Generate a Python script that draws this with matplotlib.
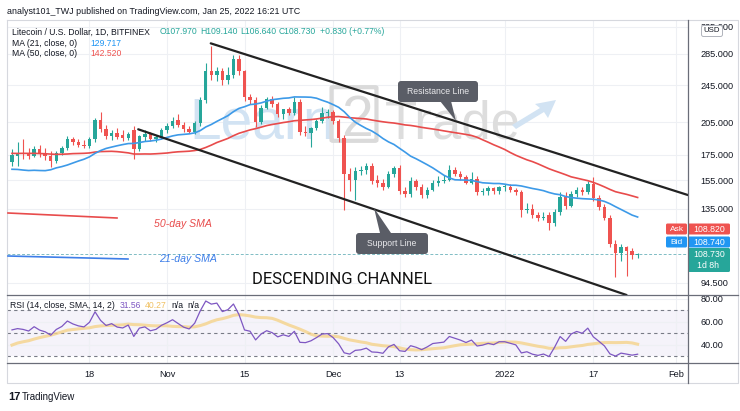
import numpy as np
import pandas as pd
import matplotlib
matplotlib.use('Agg')
import matplotlib.pyplot as plt
from matplotlib.patches import FancyBboxPatch, Polygon
from matplotlib.ticker import NullLocator

# ---------------- data ----------------
dates = pd.date_range('2021-10-04', '2022-01-25', freq='D')

opens = [169, 174, 177, 177, 174, 180, 176, 174, 170, 177, 181, 189, 186, 184, 183, 189, 207, 198, 192, 195,
         193, 190, 197, 180, 191, 194, 189, 191, 197, 201, 207, 202, 198, 196, 204, 228, 262, 258, 262, 251,
         257, 278, 262, 231, 228, 205, 220, 229, 224, 213, 218, 214, 226, 196, 195, 199, 206, 214, 215, 206,
         190, 160, 155, 162, 163, 166, 155, 153, 150, 160, 164, 147, 145, 154, 150, 144, 148, 153, 154, 155,
         163, 160, 157, 153, 156, 146, 147, 149, 147, 150, 150, 148, 146, 134, 135, 131, 129, 131, 126, 133,
         143, 137, 145, 148, 146, 152, 142, 136, 129, 114, 109, 112, 110, 107.97]
highs = [180, 186, 189, 181, 183, 184, 181, 178, 178, 183, 192, 191, 189, 188, 191, 209, 215, 202, 197, 199,
         197, 196, 201, 193, 197, 196, 193, 199, 204, 210, 213, 205, 201, 206, 231, 273, 296, 268, 266, 268,
         283, 284, 264, 235, 231, 223, 232, 233, 226, 219, 221, 231, 229, 201, 200, 208, 221, 218, 217, 208,
         193, 164, 165, 166, 168, 168, 159, 156, 162, 166, 167, 150, 157, 156, 152, 150, 155, 158, 159, 167,
         165, 162, 159, 161, 158, 149, 151, 150, 151, 152, 152, 149, 148, 139, 138, 133, 133, 133, 135, 146,
         146, 147, 150, 150, 154, 157, 144, 138, 131, 116, 114, 113, 111.5, 109.14]
lows = [166, 166, 172, 172, 173, 173, 171, 165, 168, 175, 179, 184, 182, 181, 181, 186, 196, 189, 188, 189,
        187, 188, 172, 178, 187, 187, 186, 189, 195, 199, 200, 196, 195, 194, 201, 225, 251, 250, 245, 247,
        254, 258, 227, 224, 200, 203, 218, 221, 210, 208, 212, 212, 193, 192, 182, 197, 204, 209, 203, 186,
        134, 147, 141, 159, 160, 152, 150, 148, 149, 157, 145, 143, 143, 148, 142, 142, 147, 151, 153, 154,
        158, 155, 152, 152, 144, 144, 144, 145, 145, 147, 146, 144, 130, 132, 129, 127, 128, 122, 124, 131,
        135, 136, 143, 144, 145, 140, 134, 128, 112, 97, 105, 97.5, 106, 106.64]
closes = [175, 177, 176, 174, 180, 176, 174, 170, 177, 181, 189, 186, 184, 183, 189, 207, 198, 192, 195, 191,
          190, 194, 180, 192, 194, 189, 191, 197, 201, 206, 202, 198, 196, 204, 228, 262, 258, 262, 251, 257,
          278, 262, 231, 228, 205, 220, 229, 224, 213, 218, 214, 226, 196, 195, 199, 206, 214, 215, 206, 190,
          160, 155, 162, 163, 166, 154, 153, 150, 160, 164, 147, 145, 154, 150, 144, 148, 153, 154, 155, 163,
          160, 157, 153, 156, 146, 147, 149, 147, 150, 150, 148, 146, 134, 135, 131, 129, 130, 126, 133, 143,
          137, 145, 148, 146, 152, 142, 136, 129, 114, 109, 112, 110, 107.9, 108.73]
# closes before the visible window (16 Aug - 3 Oct 2021) used to warm up the indicators
warmup_closes = [180, 172, 176, 178, 185, 182, 185, 188, 175, 180, 170, 178, 176, 174, 168, 178,
                 185, 190, 205, 215, 222, 228, 194, 190, 192, 180, 182, 184, 176,
                 180, 186, 182, 176, 180, 176, 155, 146, 160, 162, 152, 150, 152, 147, 145, 148, 153,
                 170, 167, 168]

price_ticks = [94.5, 135, 155, 175, 205, 245, 285, 325]
rsi_ticks = [80, 60, 40]
time_tick_dates = ['2021-10-18', '2021-11-01', '2021-11-15', '2021-12-01', '2021-12-13',
                   '2022-01-01', '2022-01-17', '2022-02-01']
time_tick_labels = ['18', 'Nov', '15', 'Dec', '13', '2022', '17', 'Feb']

# analyst drawings: (day offset from first date, price)
resistance_x = [35.9, 122.1]
resistance_y = [300, 144.2]
support_x = [22.8, 111.0]
support_y = [198.1, 89.0]

# ---------------- figure ----------------
W, H = 740, 411
plt.rcParams['font.family'] = ['Liberation Sans', 'DejaVu Sans']
fig = plt.figure(figsize=(7.4, 4.11), dpi=100)
fig.patch.set_facecolor('white')

def fx(x):
    return x / W

def fy(y):
    return 1 - y / H

L, R, T, B1, T2, B2 = 7, 688, 20, 295, 296, 363
ax = fig.add_axes([fx(L), fy(B1), (R - L) / W, (B1 - T) / H])
ax2 = fig.add_axes([fx(L), fy(B2), (R - L) / W, (B2 - T2) / H], sharex=ax)

x = np.arange(len(dates))
o = np.array(opens, float); c = np.array(closes, float)
hi = np.array(highs, float); lo = np.array(lows, float)
up = c >= o
GREEN, RED = '#26a69a', '#ef5350'
cols = np.where(up, GREEN, RED)

ax.set_yscale('log')
ax.set_ylim(89.0, 335.8)
ax.set_xlim(-0.9, 122.1)
ax.yaxis.set_minor_locator(NullLocator())
ax.set_yticks(price_ticks)
ax.set_yticklabels([f'{v:.3f}' for v in price_ticks])
ax.yaxis.tick_right()
ax.tick_params(axis='y', length=0, pad=9, labelsize=6.6, labelcolor='#131722')
ax.tick_params(axis='x', length=0, labelbottom=False)
start = dates[0]
tpos = [(pd.Timestamp(d) - start).days for d in time_tick_dates]
ax.set_xticks(tpos)
for a in (ax, ax2):
    a.set_axisbelow(True)
    a.grid(True, color='#eef0f4', lw=0.8)
    for s in a.spines.values():
        s.set_visible(False)

# watermark
wm = dict(transform=fig.transFigure, zorder=1, va='baseline', ha='left')
ax.text(fx(189), fy(138), 'Learn', color='#d2e3f3', fontsize=41, **wm)
ax.add_patch(FancyBboxPatch((fx(333), fy(140)), 42 / W, 52 / H, boxstyle='round,pad=0.002',
                            transform=fig.transFigure, fc='none', ec='#dadada', lw=3, zorder=1))
ax.text(fx(341), fy(136), '2', color='#dadada', fontsize=41, **wm)
ax.text(fx(385), fy(138), 'Trade', color='#dddddd', fontsize=38, **wm)
ax.add_patch(Polygon([(fx(512), fy(125)), (fx(540), fy(108)), (fx(535), fy(104)), (fx(556), fy(100)),
                      (fx(548), fy(118)), (fx(544), fy(112)), (fx(516), fy(129))],
                     closed=True, transform=fig.transFigure, fc='#d2e3f3', ec='none', zorder=1))

# candles
ax.vlines(x, lo, hi, colors=cols, lw=0.8, zorder=3)
body = np.maximum(np.abs(c - o), np.minimum(o, c) * 0.005)
ax.bar(x, body, bottom=np.minimum(o, c), width=0.62, color=cols, lw=0, zorder=4)

# moving averages
allc = pd.Series(warmup_closes + closes, dtype=float)
n0 = len(warmup_closes)
ma21 = allc.rolling(21).mean().values[n0:]
ma50 = allc.rolling(50).mean().values[n0:]
ax.plot(x, ma50, color='#e84b4b', lw=1.2, zorder=5)
ax.plot(x, ma21, color='#3d9ae8', lw=1.2, zorder=5)

# current price line
ax.axhline(closes[-1], color='#7fbcc4', lw=0.7, ls=(0, (3, 2)), zorder=2)

# channel lines
ax.plot(resistance_x, resistance_y, color='#222222', lw=1.6, zorder=6, solid_capstyle='round')
ax.plot(support_x, support_y, color='#222222', lw=1.6, zorder=6, solid_capstyle='round')

# RSI
d = allc.diff()
g = d.clip(lower=0); ls_ = -d.clip(upper=0)
ag = g.ewm(alpha=1 / 14, adjust=False).mean()
al = ls_.ewm(alpha=1 / 14, adjust=False).mean()
rsi_all = 100 - 100 / (1 + ag / al)
rsi = rsi_all.values[n0:]
rsi_ma = rsi_all.rolling(14).mean().values[n0:]
ax2.set_ylim(24.3, 82.6)
ax2.axhspan(30, 70, color='#7e57c2', alpha=0.07, lw=0, zorder=0.5)
for lvl in (70, 50, 30):
    ax2.axhline(lvl, color='#787b86', lw=0.8, ls=(0, (3, 3)), zorder=1)
ax2.plot(x, rsi_ma, color='#f5d38a', lw=2.2, alpha=0.8, zorder=2)
ax2.plot(x, rsi, color='#7e57c2', lw=0.9, zorder=3)
ax2.set_yticks(rsi_ticks)
ax2.set_yticklabels([f'{v:.2f}' for v in rsi_ticks])
ax2.yaxis.tick_right()
ax2.tick_params(axis='y', length=0, pad=9, labelsize=6.6, labelcolor='#131722')
ax2.set_xticks(tpos)
ax2.set_xticklabels(time_tick_labels)
ax2.tick_params(axis='x', length=0, pad=5, labelsize=6.6, labelcolor='#131722')

# ---------------- overlay (annotations & UI) ----------------
ov = fig.add_axes([0, 0, 1, 1], zorder=10)
ov.set_xlim(0, W); ov.set_ylim(H, 0); ov.axis('off'); ov.patch.set_alpha(0)

# frame lines
ov.plot([L, 738, 738, L, L], [T, T, 383, 383, T], color='#d6d8de', lw=0.8)
ov.plot([L, 738], [B1, B1], color='#6a6d78', lw=0.9)
ov.plot([L, 738], [B2, B2], color='#6a6d78', lw=0.9)
ov.plot([R, R], [T, 383], color='#6a6d78', lw=0.9)

ov.text(7, 11, 'analyst101_TWJ published on TradingView.com, Jan 25, 2022 16:21 UTC',
        fontsize=6.4, color='#131722', va='center')
ov.text(12, 32, 'Litecoin / U.S. Dollar, 1D, BITFINEX', fontsize=6.2, color='#131722', va='center')
for xx, t in [(160, 'O107.970'), (200, 'H109.140'), (240, 'L106.640'), (279, 'C108.730'),
              (320, '+0.830 (+0.77%)')]:
    ov.text(xx, 32, t, fontsize=6.2, color=GREEN, va='center')
ov.text(12, 43, 'MA (21, close, 0)', fontsize=6.2, color='#131722', va='center')
ov.text(90, 43, '129.717', fontsize=6.2, color='#2196f3', va='center')
ov.text(12, 54, 'MA (50, close, 0)', fontsize=6.2, color='#131722', va='center')
ov.text(90, 54, '142.520', fontsize=6.2, color='#ef5350', va='center')

# USD box
ov.add_patch(FancyBboxPatch((702, 26), 20, 10, boxstyle='round,pad=0.5,rounding_size=2',
                            fc='white', ec='#b0b3bb', lw=0.7))
ov.text(712, 31, 'USD', fontsize=5.6, color='#131722', ha='center', va='center')

# price tags
def tag(x0, y0, w, h, fc, txt, fs=6.3):
    ov.add_patch(FancyBboxPatch((x0, y0), w, h, boxstyle='round,pad=0,rounding_size=1.5',
                                fc=fc, ec='none'))
    ov.text(x0 + w / 2, y0 + h / 2, txt, fontsize=fs, color='white', ha='center', va='center')

tag(666, 223.5, 21, 11, RED, 'Ask', 6)
tag(688, 223.5, 42, 11, RED, '108.820')
tag(666, 236.5, 21, 11, '#2196f3', 'Bid', 6)
tag(688, 236.5, 42, 11, '#2196f3', '108.740')
ov.add_patch(FancyBboxPatch((688, 248), 42, 24, boxstyle='round,pad=0,rounding_size=1.5',
                            fc=GREEN, ec='none'))
ov.text(709, 254.5, '108.730', fontsize=6.3, color='white', ha='center', va='center')
ov.text(697, 265.5, '1d 8h', fontsize=6.3, color='white', ha='left', va='center')

# callouts
ov.add_patch(Polygon([(440, 101), (451, 101), (456, 121)], closed=True, fc='#5a5d66', ec='none'))
ov.add_patch(FancyBboxPatch((398, 81), 80, 21, boxstyle='round,pad=0,rounding_size=3',
                            fc='#5a5d66', ec='none'))
ov.text(438, 91.5, 'Resistance Line', fontsize=6.2, color='#e9e9ec', ha='center', va='center')
ov.add_patch(Polygon([(380, 233), (391, 233), (374, 208)], closed=True, fc='#5a5d66', ec='none'))
ov.add_patch(FancyBboxPatch((356, 233), 72, 21, boxstyle='round,pad=0,rounding_size=3',
                            fc='#5a5d66', ec='none'))
ov.text(392, 243.5, 'Support Line', fontsize=6.2, color='#e9e9ec', ha='center', va='center')

# SMA key annotations
ov.plot([8, 117], [213, 218], color='#e84b4b', lw=1.2)
ov.text(183, 224, '50-day SMA', fontsize=7.6, color='#e84b4b', style='italic', ha='center', va='center')
ov.plot([8, 128], [256, 259], color='#3d7ee8', lw=1.2)
ov.text(188, 259, '21-day SMA', fontsize=7.6, color='#3d7ee8', style='italic', ha='center', va='center')
ov.text(342, 279, 'DESCENDING CHANNEL', fontsize=12, color='#111111', ha='center', va='center',
        family=['Roboto', 'DejaVu Sans'])

# RSI legend
ov.text(10, 305, 'RSI (14, close, SMA, 14, 2)', fontsize=6.2, color='#131722', va='center')
ov.text(120, 305, '31.56', fontsize=6.2, color='#7e57c2', va='center')
ov.text(145, 305, '40.27', fontsize=6.2, color='#f0c060', va='center')
ov.text(171, 305, 'n/a', fontsize=6.2, color='#131722', va='center')
ov.text(187, 305, 'n/a', fontsize=6.2, color='#131722', va='center')

# TradingView logo
ov.text(8, 397, '17', fontsize=8, color='#131722', fontweight='bold', va='center')
ov.text(22, 397, 'TradingView', fontsize=7, color='#131722', va='center')

fig.savefig('out.png', dpi=100)
